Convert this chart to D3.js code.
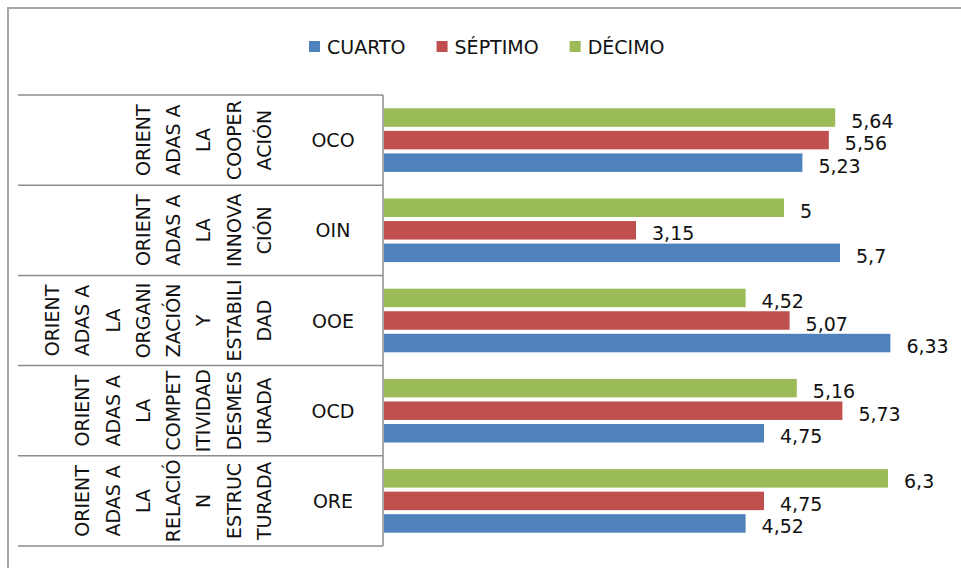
<!DOCTYPE html>
<html>
<head>
<meta charset="utf-8">
<script src="https://cdn.jsdelivr.net/npm/d3@7"></script>
<style>
  body { margin: 0; background: #fff; }
  svg text { font-family: "DejaVu Sans", sans-serif; font-size: 19px; fill: #111; }
</style>
</head>
<body>
<svg width="961" height="568"></svg>
<script>
var codes = ["OCO", "OIN", "OOE", "OCD", "ORE"];

var groupLines = [
    ["ORIENT", "ADAS A", "LA", "COOPER", "ACIÓN"],
    ["ORIENT", "ADAS A", "LA", "INNOVA", "CIÓN"],
    ["ORIENT", "ADAS A", "LA", "ORGANI", "ZACIÓN", "Y", "ESTABILI", "DAD"],
    ["ORIENT", "ADAS A", "LA", "COMPET", "ITIVIDAD", "DESMES", "URADA"],
    ["ORIENT", "ADAS A", "LA", "RELACIÓ", "N", "ESTRUC", "TURADA"]
];

var seriesNames = ["CUARTO", "SÉPTIMO", "DÉCIMO"];
var seriesColors = ["#4F81BD", "#C0504D", "#9BBB59"];

var cuarto = [5.23, 5.7, 6.33, 4.75, 4.52];
var septimo = [5.56, 3.15, 5.07, 5.73, 4.75];
var decimo = [5.64, 5, 4.52, 5.16, 6.3];

var svg = d3.select("svg"),
    width = +svg.attr("width"),
    height = +svg.attr("height");

var values = [cuarto, septimo, decimo];

var x = d3.scaleLinear()
    .domain([0, 7])
    .range([384, 944]);

var y = d3.scaleBand()
    .domain(codes)
    .range([95, 546]);

// green on top, blue at the bottom
var ySub = d3.scaleBand()
    .domain(["DÉCIMO", "SÉPTIMO", "CUARTO"])
    .range([0, y.bandwidth()])
    .paddingInner(0.18)
    .paddingOuter(0.59);

var fmt = function(v) { return String(v).replace(".", ","); };

// chart border (cut at right and bottom)
svg.append("path")
    .attr("d", "M8,568V8H961")
    .attr("fill", "none")
    .attr("stroke", "#a6a6a6")
    .attr("stroke-width", 2);

// legend
var legend = svg.append("g");
var lx = 309;
seriesNames.forEach(function(name, i) {
    legend.append("rect")
        .attr("x", lx)
        .attr("y", 41)
        .attr("width", 11)
        .attr("height", 11)
        .attr("fill", seriesColors[i]);
    var t = legend.append("text")
        .attr("x", lx + 18)
        .attr("y", 46.5)
        .attr("dominant-baseline", "central")
        .text(name);
    lx += 18 + t.node().getComputedTextLength() + 31;
});

// category table lines
var bounds = codes.map(function(c) { return y(c); }).concat([y.range()[1]]);
svg.append("g").selectAll("line")
    .data(bounds)
    .join("line")
    .attr("x1", 18)
    .attr("x2", 383)
    .attr("y1", function(d) { return d; })
    .attr("y2", function(d) { return d; })
    .attr("stroke", "#8c8c8c")
    .attr("stroke-width", 1.5);

svg.append("line")
    .attr("x1", 383)
    .attr("x2", 383)
    .attr("y1", y.range()[0])
    .attr("y2", y.range()[1])
    .attr("stroke", "#8c8c8c")
    .attr("stroke-width", 1.5);

// inner category codes
svg.append("g").selectAll("text")
    .data(codes)
    .join("text")
    .attr("x", 333)
    .attr("y", function(d) { return y(d) + y.bandwidth() / 2; })
    .attr("text-anchor", "middle")
    .attr("dominant-baseline", "central")
    .text(function(d) { return d; });

// outer category names, rotated, wrapped in columns
groupLines.forEach(function(lines, i) {
    var cy = y(codes[i]) + y.bandwidth() / 2;
    var n = lines.length;
    svg.append("g").selectAll("text")
        .data(lines)
        .join("text")
        .attr("transform", function(d, j) {
            return "translate(" + (264 - (n - 1 - j) * 30.3) + "," + cy + ") rotate(-90)";
        })
        .attr("text-anchor", "middle")
        .attr("dominant-baseline", "central")
        .text(function(d) { return d; });
});

// bars
var bars = svg.append("g");
seriesNames.forEach(function(name, s) {
    var g = bars.append("g");
    g.selectAll("rect")
        .data(values[s])
        .join("rect")
        .attr("x", x(0))
        .attr("y", function(d, i) { return y(codes[i]) + ySub(name); })
        .attr("width", function(d) { return x(d) - x(0); })
        .attr("height", ySub.bandwidth())
        .attr("fill", seriesColors[s]);
    g.selectAll("text")
        .data(values[s])
        .join("text")
        .attr("x", function(d) { return x(d) + 16; })
        .attr("y", function(d, i) { return y(codes[i]) + ySub(name) + ySub.bandwidth() / 2 + 3; })
        .attr("dominant-baseline", "central")
        .text(fmt);
});
</script>
</body>
</html>
